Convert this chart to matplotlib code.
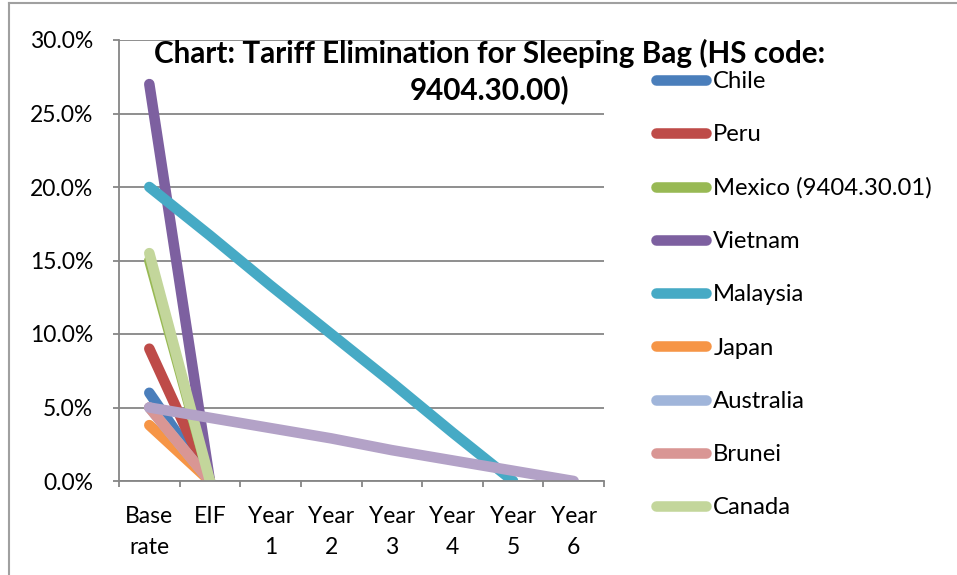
import numpy as np
import matplotlib.pyplot as plt
from matplotlib.lines import Line2D
from matplotlib.ticker import FuncFormatter, MultipleLocator

plt.rcParams['font.family'] = ['Lato', 'DejaVu Sans']

# categories on the x axis
stages = ['Base\nrate', 'EIF', 'Year\n1', 'Year\n2', 'Year\n3', 'Year\n4', 'Year\n5', 'Year\n6']

nan = np.nan
# tariff rates (%) per stage, NaN where the schedule has no entry
chile = [6.0, 0.0, nan, nan, nan, nan, nan, nan]
peru = [9.0, 0.0, nan, nan, nan, nan, nan, nan]
mexico = [15.0, 0.0, nan, nan, nan, nan, nan, nan]
vietnam = [27.0, 0.0, nan, nan, nan, nan, nan, nan]
malaysia = [20.0, 16.7, 13.3, 10.0, 6.7, 3.3, 0.0, nan]
japan = [3.8, 0.0, nan, nan, nan, nan, nan, nan]
australia = [5.0, 0.0, nan, nan, nan, nan, nan, nan]
brunei = [5.0, 0.0, nan, nan, nan, nan, nan, nan]
canada = [15.5, 0.0, nan, nan, nan, nan, nan, nan]
new_zealand = [5.0, 4.3, 3.6, 2.9, 2.1, 1.4, 0.7, 0.0]

series = [
    ('Chile', chile, '#4A7EBB'),
    ('Peru', peru, '#BE4B48'),
    ('Mexico (9404.30.01)', mexico, '#98B954'),
    ('Vietnam', vietnam, '#7D60A0'),
    ('Malaysia', malaysia, '#46AAC5'),
    ('Japan', japan, '#F69546'),
    ('Australia', australia, '#A0B5DA'),
    ('Brunei', brunei, '#D99694'),
    ('Canada', canada, '#C3D69B'),
    ('_New Zealand', new_zealand, '#B3A2C7'),
]

fs = 16.5

fig = plt.figure(figsize=(9.57, 5.75), dpi=100)
ax = fig.add_axes([119 / 957, 1 - 481 / 575, 485 / 957, 441 / 575])

x = np.arange(len(stages))
for name, vals, color in series:
    ax.plot(x, vals, color=color, lw=7.6, solid_capstyle='round',
            solid_joinstyle='round', label=name)

grid_color = '#868686'
ax.set_xlim(-0.5, len(stages) - 0.5)
ax.set_ylim(0, 30)
ax.yaxis.set_major_locator(MultipleLocator(5))
ax.yaxis.set_major_formatter(FuncFormatter(lambda v, p: f'{v:.1f}%'))
ax.grid(axis='y', color=grid_color, lw=1.3)
ax.set_axisbelow(True)

ax.set_xticks(x)
ax.set_xticklabels(stages, fontsize=fs, linespacing=1.6)
ax.set_xticks(np.arange(-0.5, len(stages)), minor=True)
ax.tick_params(axis='x', which='major', length=0, pad=18)
ax.tick_params(axis='x', which='minor', length=4.5, width=1.3, color=grid_color)
ax.tick_params(axis='y', length=4.5, width=1.3, color=grid_color, labelsize=fs, pad=14)

for side in ['top', 'right']:
    ax.spines[side].set_visible(False)
for side in ['left', 'bottom']:
    ax.spines[side].set_color(grid_color)
    ax.spines[side].set_linewidth(1.3)

# title, one text per line
fig.text(490 / 957, 1 - 63 / 575, 'Chart: Tariff Elimination for Sleeping Bag (HS code:',
         ha='center', va='baseline', fontsize=21.3, fontweight='bold')
fig.text(490 / 957, 1 - 99 / 575, '9404.30.00)',
         ha='center', va='baseline', fontsize=21.3, fontweight='bold')

ax.legend(loc='upper left', bbox_to_anchor=(644 / 957, 1 - 59 / 575),
          bbox_transform=fig.transFigure, frameon=False, fontsize=17.2,
          handlelength=2.1, handletextpad=0.3, labelspacing=1.35, borderpad=0)

# outer chart frame
fig.add_artist(Line2D([8.5 / 957, 8.5 / 957], [0, 1 - 3 / 575], color='#A0A0A0', lw=1.5,
                      transform=fig.transFigure))
fig.add_artist(Line2D([8.5 / 957, 1], [1 - 3 / 575, 1 - 3 / 575], color='#A0A0A0', lw=1.5,
                      transform=fig.transFigure))

fig.savefig('out.png', dpi=100)
